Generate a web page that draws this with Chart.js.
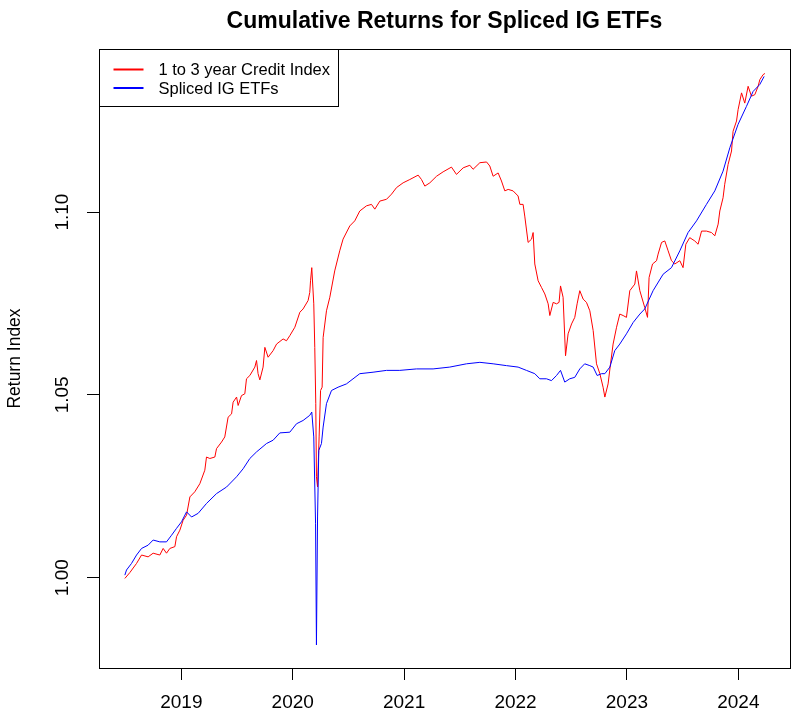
<!DOCTYPE html>
<html>
<head>
<meta charset="utf-8">
<script src="https://cdn.jsdelivr.net/npm/chart.js@4.4.1/dist/chart.umd.min.js"></script>
<style>
  html, body { margin: 0; padding: 0; background: #fff; }
  canvas { display: block; }
</style>
</head>
<body>
<canvas id="returnsChart" width="807" height="725"></canvas>
<script>
const chartTitle = "Cumulative Returns for Spliced IG ETFs";
const yAxisTitle = "Return Index";
const seriesNames = ["1 to 3 year Credit Index", "Spliced IG ETFs"];
const seriesColors = ["#ff0000", "#0000ff"];
const xTickValues = [2019, 2020, 2021, 2022, 2023, 2024];
const yTickValues = [1.00, 1.05, 1.10];

// 1 to 3 year Credit Index (decimal year, index level)
const creditYears = [
  2018.493, 2018.538, 2018.598, 2018.643, 2018.702, 2018.747, 2018.807, 2018.837, 2018.867, 2018.897,
  2018.942, 2018.957, 2018.987, 2019.016, 2019.047, 2019.077, 2019.121, 2019.166, 2019.211, 2019.226,
  2019.256, 2019.301, 2019.316, 2019.361, 2019.390, 2019.420, 2019.451, 2019.465, 2019.496, 2019.510,
  2019.540, 2019.570, 2019.585, 2019.615, 2019.660, 2019.675, 2019.689, 2019.705, 2019.734, 2019.750,
  2019.779, 2019.824, 2019.855, 2019.914, 2019.944, 2019.974, 2020.019, 2020.064, 2020.093, 2020.138,
  2020.153, 2020.160, 2020.171, 2020.189, 2020.198, 2020.207, 2020.213, 2020.223, 2020.237, 2020.250,
  2020.264, 2020.273, 2020.303, 2020.333, 2020.377, 2020.422, 2020.452, 2020.512, 2020.557, 2020.602,
  2020.662, 2020.707, 2020.737, 2020.782, 2020.842, 2020.887, 2020.932, 2020.991, 2021.051, 2021.126,
  2021.156, 2021.186, 2021.231, 2021.291, 2021.350, 2021.425, 2021.470, 2021.530, 2021.590, 2021.619,
  2021.680, 2021.740, 2021.769, 2021.799, 2021.844, 2021.874, 2021.904, 2021.934, 2021.978, 2022.023,
  2022.039, 2022.068, 2022.083, 2022.113, 2022.144, 2022.158, 2022.173, 2022.203, 2022.233, 2022.263,
  2022.293, 2022.308, 2022.338, 2022.368, 2022.391, 2022.404, 2022.427, 2022.449, 2022.472, 2022.503,
  2022.532, 2022.553, 2022.577, 2022.607, 2022.637, 2022.667, 2022.697, 2022.727, 2022.757, 2022.786,
  2022.802, 2022.831, 2022.853, 2022.876, 2022.907, 2022.936, 2022.966, 2022.996, 2023.026, 2023.071,
  2023.086, 2023.116, 2023.160, 2023.185, 2023.199, 2023.230, 2023.266, 2023.280, 2023.311, 2023.340,
  2023.370, 2023.400, 2023.430, 2023.475, 2023.504, 2023.529, 2023.564, 2023.609, 2023.639, 2023.670,
  2023.714, 2023.759, 2023.789, 2023.819, 2023.834, 2023.863, 2023.878, 2023.908, 2023.939, 2023.953,
  2023.984, 2023.998, 2024.029, 2024.058, 2024.088, 2024.118, 2024.148, 2024.178, 2024.193, 2024.223,
  2024.239
];
const creditValues = [
  0.9998, 1.0014, 1.0039, 1.0062, 1.0057, 1.0067, 1.0062, 1.0080, 1.0067, 1.0080,
  1.0085, 1.0112, 1.0130, 1.0157, 1.0171, 1.0221, 1.0235, 1.0257, 1.0294, 1.0330,
  1.0326, 1.0330, 1.0353, 1.0371, 1.0385, 1.0439, 1.0448, 1.0480, 1.0494, 1.0471,
  1.0498, 1.0503, 1.0544, 1.0553, 1.0576, 1.0594, 1.0558, 1.0541, 1.0576, 1.0630,
  1.0603, 1.0621, 1.0639, 1.0653, 1.0648, 1.0662, 1.0685, 1.0726, 1.0735, 1.0758,
  1.0780, 1.0812, 1.0848, 1.0749, 1.0630, 1.0477, 1.0276, 1.0248, 1.0385, 1.0512,
  1.0521, 1.0657, 1.0730, 1.0767, 1.0839, 1.0894, 1.0926, 1.0962, 1.0976, 1.1003,
  1.1017, 1.1021, 1.1008, 1.1030, 1.1035, 1.1049, 1.1067, 1.1080, 1.1089, 1.1101,
  1.1089, 1.1071, 1.1080, 1.1098, 1.1110, 1.1123, 1.1103, 1.1121, 1.1128, 1.1117,
  1.1135, 1.1137, 1.1126, 1.1098, 1.1107, 1.1085, 1.1058, 1.1062, 1.1058, 1.1044,
  1.1021, 1.1021, 1.0989, 1.0917, 1.0926, 1.0944, 1.0858, 1.0812, 1.0794, 1.0776,
  1.0749, 1.0717, 1.0753, 1.0749, 1.0753, 1.0798, 1.0767, 1.0607, 1.0667, 1.0694,
  1.0712, 1.0749, 1.0785, 1.0762, 1.0753, 1.0730, 1.0676, 1.0585, 1.0558, 1.0521,
  1.0494, 1.0530, 1.0585, 1.0639, 1.0685, 1.0721, 1.0717, 1.0712, 1.0785, 1.0803,
  1.0839, 1.0785, 1.0739, 1.0712, 1.0821, 1.0858, 1.0867, 1.0885, 1.0917, 1.0921,
  1.0894, 1.0867, 1.0858, 1.0867, 1.0848, 1.0912, 1.0930, 1.0921, 1.0912, 1.0948,
  1.0948, 1.0944, 1.0935, 1.0967, 1.1003, 1.1039, 1.1076, 1.1130, 1.1167, 1.1221,
  1.1249, 1.1280, 1.1326, 1.1298, 1.1344, 1.1317, 1.1321, 1.1344, 1.1362, 1.1376,
  1.1379
];

// Spliced IG ETFs (decimal year, index level)
const etfYears = [
  2018.493, 2018.508, 2018.553, 2018.598, 2018.643, 2018.702, 2018.747, 2018.807, 2018.867, 2018.912,
  2018.957, 2019.002, 2019.047, 2019.092, 2019.151, 2019.226, 2019.316, 2019.406, 2019.496, 2019.555,
  2019.615, 2019.675, 2019.765, 2019.824, 2019.884, 2019.974, 2020.034, 2020.093, 2020.153, 2020.171,
  2020.189, 2020.205, 2020.213, 2020.223, 2020.234, 2020.258, 2020.273, 2020.303, 2020.348, 2020.407,
  2020.482, 2020.602, 2020.721, 2020.842, 2020.961, 2021.111, 2021.260, 2021.410, 2021.560, 2021.680,
  2021.799, 2021.919, 2022.023, 2022.098, 2022.173, 2022.218, 2022.278, 2022.323, 2022.368, 2022.404,
  2022.442, 2022.487, 2022.532, 2022.577, 2022.621, 2022.667, 2022.697, 2022.733, 2022.772, 2022.802,
  2022.847, 2022.891, 2022.936, 2022.996, 2023.056, 2023.116, 2023.160, 2023.235, 2023.325, 2023.400,
  2023.475, 2023.549, 2023.625, 2023.714, 2023.789, 2023.863, 2023.924, 2023.998, 2024.073, 2024.133,
  2024.193, 2024.232
];
const etfValues = [
  1.0007, 1.0021, 1.0039, 1.0062, 1.0080, 1.0089, 1.0103, 1.0098, 1.0098, 1.0116,
  1.0135, 1.0153, 1.0180, 1.0166, 1.0176, 1.0203, 1.0230, 1.0248, 1.0276, 1.0298,
  1.0326, 1.0344, 1.0367, 1.0376, 1.0396, 1.0398, 1.0421, 1.0430, 1.0444, 1.0453,
  1.0385, 1.0149, 0.9816, 1.0166, 1.0348, 1.0367, 1.0412, 1.0476, 1.0512, 1.0521,
  1.0530, 1.0558, 1.0562, 1.0567, 1.0567, 1.0571, 1.0571, 1.0576, 1.0585, 1.0589,
  1.0585, 1.0580, 1.0576, 1.0567, 1.0558, 1.0544, 1.0544, 1.0539, 1.0553, 1.0567,
  1.0535, 1.0544, 1.0548, 1.0571, 1.0585, 1.0580, 1.0576, 1.0553, 1.0558, 1.0558,
  1.0576, 1.0621, 1.0639, 1.0667, 1.0698, 1.0721, 1.0735, 1.0785, 1.0830, 1.0848,
  1.0894, 1.0944, 1.0976, 1.1021, 1.1058, 1.1112, 1.1176, 1.1240, 1.1289, 1.1330,
  1.1349, 1.1371
];

const fontFamily = "'Liberation Sans', Arial, sans-serif";

function toPoints(xs, ys) {
  return xs.map((x, i) => ({ x, y: ys[i] }));
}

// box round the plot, R-style legend and the title
const framePlugin = {
  id: "framePlugin",
  afterDraw(chart) {
    const { ctx, chartArea: area } = chart;
    ctx.save();
    ctx.strokeStyle = "#000";
    ctx.lineWidth = 1;
    ctx.strokeRect(Math.round(area.left) + 0.5, Math.round(area.top) + 0.5,
      Math.round(area.right - area.left), Math.round(area.bottom - area.top));

    // legend
    const lx = Math.round(area.left) + 0.5;
    const ly = Math.round(area.top) + 0.5;
    ctx.strokeRect(lx, ly, 239, 57);
    const rows = [20, 38.5];
    ctx.font = "16.5px " + fontFamily;
    ctx.textBaseline = "middle";
    ctx.textAlign = "left";
    seriesNames.forEach((name, i) => {
      ctx.strokeStyle = seriesColors[i];
      ctx.lineWidth = 2;
      ctx.beginPath();
      ctx.moveTo(lx + 14, ly + rows[i]);
      ctx.lineTo(lx + 44, ly + rows[i]);
      ctx.stroke();
      ctx.fillStyle = "#000";
      ctx.fillText(name, lx + 59, ly + rows[i] + 1);
    });

    // title
    ctx.font = "bold 23px " + fontFamily;
    ctx.textAlign = "center";
    ctx.textBaseline = "alphabetic";
    ctx.fillStyle = "#000";
    ctx.fillText(chartTitle, (area.left + area.right) / 2, 27.5);
    ctx.restore();
  },
};

const tickGrid = {
  drawOnChartArea: false,
  drawTicks: true,
  tickLength: 12,
  tickColor: "#000",
  tickWidth: 1,
};

new Chart(document.getElementById("returnsChart"), {
  type: "line",
  data: {
    datasets: [
      {
        label: seriesNames[0],
        data: toPoints(creditYears, creditValues),
        borderColor: seriesColors[0],
        borderWidth: 1,
        pointRadius: 0,
        tension: 0,
        order: 1,
      },
      {
        label: seriesNames[1],
        data: toPoints(etfYears, etfValues),
        borderColor: seriesColors[1],
        borderWidth: 1,
        pointRadius: 0,
        tension: 0,
        order: 0,
      },
    ],
  },
  options: {
    responsive: false,
    animation: false,
    events: [],
    layout: { padding: { top: 49, right: 17, left: 0, bottom: 0 } },
    plugins: {
      legend: { display: false },
      title: { display: false },
      tooltip: { enabled: false },
    },
    scales: {
      x: {
        type: "linear",
        min: 2018.261,
        max: 2024.464,
        afterBuildTicks: (scale) => {
          scale.ticks = xTickValues.map((value) => ({ value }));
        },
        afterFit: (scale) => {
          scale.height = 57;
        },
        ticks: {
          color: "#000",
          font: { family: fontFamily, size: 19 },
          padding: 11,
          maxRotation: 0,
          autoSkip: false,
          callback: (value) => String(value),
        },
        grid: tickGrid,
        border: { display: false },
      },
      y: {
        type: "linear",
        min: 0.9753,
        max: 1.1446,
        afterBuildTicks: (scale) => {
          scale.ticks = yTickValues.map((value) => ({ value }));
        },
        afterFit: (scale) => {
          scale.width = 99;
        },
        ticks: {
          color: "#000",
          font: { family: fontFamily, size: 19 },
          padding: 6,
          crossAlign: "center",
          minRotation: 90,
          maxRotation: 90,
          callback: (value) => value.toFixed(2),
        },
        grid: tickGrid,
        border: { display: false },
        title: {
          display: true,
          text: yAxisTitle,
          color: "#000",
          font: { family: fontFamily, size: 17.5 },
          padding: { top: 5, bottom: 0 },
        },
      },
    },
  },
  plugins: [framePlugin],
});
</script>
</body>
</html>
